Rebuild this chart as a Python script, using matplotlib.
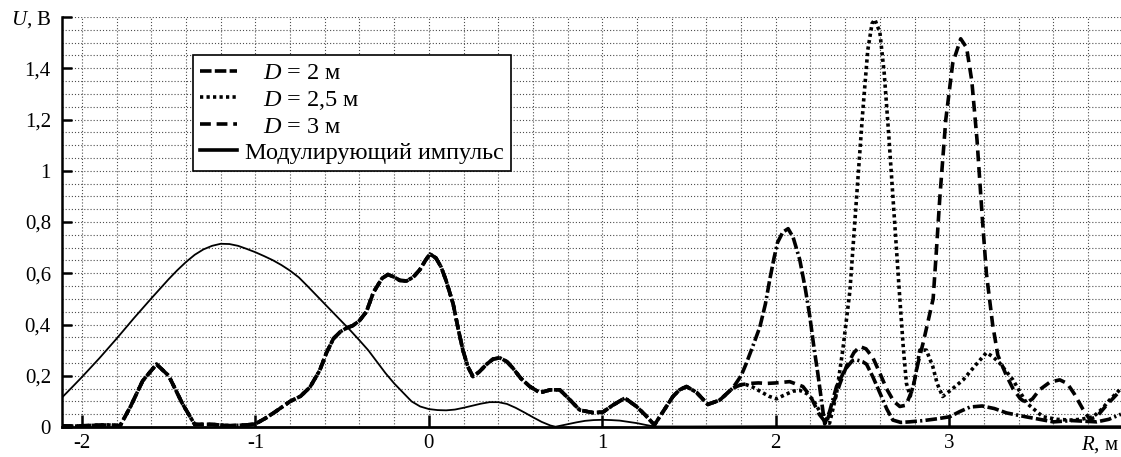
import matplotlib
matplotlib.use("Agg")
import matplotlib.pyplot as plt
from matplotlib.ticker import MultipleLocator

plt.rcParams['font.family'] = ['Liberation Serif', 'DejaVu Serif']
plt.rcParams['mathtext.fontset'] = 'custom'
plt.rcParams['mathtext.rm'] = 'Liberation Serif'
plt.rcParams['mathtext.it'] = 'Liberation Serif:italic'

# common part of the three D curves (they coincide up to R ~ 1.75)
common_r = [-2.115, -2.05, -1.95, -1.85, -1.78, -1.72, -1.65, -1.57, -1.50, -1.42,
            -1.35, -1.25, -1.15, -1.05, -1.0, -0.94, -0.88, -0.80, -0.74, -0.686,
            -0.63, -0.59, -0.55, -0.51, -0.47, -0.44, -0.40, -0.36, -0.32, -0.27,
            -0.236, -0.20, -0.167, -0.128, -0.09, -0.052, -0.02, 0.006, 0.04, 0.07,
            0.10, 0.14, 0.17, 0.196, 0.225, 0.254, 0.29, 0.333, 0.37, 0.409,
            0.45, 0.484, 0.53, 0.582, 0.64, 0.70, 0.755, 0.80, 0.87, 0.946,
            1.003, 1.06, 1.13, 1.197, 1.25, 1.30, 1.35, 1.407, 1.445, 1.485,
            1.543, 1.608, 1.677, 1.752]
common_u = [0.005, 0.003, 0.006, 0.008, 0.005, 0.08, 0.18, 0.245, 0.2, 0.09,
            0.01, 0.01, 0.005, 0.008, 0.012, 0.035, 0.062, 0.1, 0.12, 0.155,
            0.22, 0.29, 0.345, 0.372, 0.388, 0.395, 0.415, 0.45, 0.525, 0.58,
            0.595, 0.585, 0.572, 0.57, 0.585, 0.614, 0.65, 0.675, 0.66, 0.625,
            0.57, 0.48, 0.38, 0.30, 0.235, 0.197, 0.215, 0.245, 0.265, 0.27,
            0.255, 0.23, 0.19, 0.158, 0.134, 0.145, 0.145, 0.115, 0.066, 0.056,
            0.058, 0.085, 0.113, 0.08, 0.045, 0.008, 0.06, 0.119, 0.145, 0.158,
            0.135, 0.088, 0.105, 0.152]

# D = 2 м, after the split
d2_r = [1.80, 1.831, 1.87, 1.908, 1.94, 1.965, 1.99, 2.01, 2.04, 2.071,
        2.10, 2.138, 2.17, 2.196, 2.22, 2.242, 2.262, 2.282, 2.31, 2.35,
        2.40, 2.44, 2.465, 2.50, 2.523, 2.56, 2.60, 2.64, 2.675, 2.72,
        2.77, 2.85, 2.93, 3.003, 3.06, 3.12, 3.19, 3.26, 3.33, 3.44,
        3.52, 3.60, 3.71, 3.85, 3.92, 3.99]
d2_u = [0.2, 0.25, 0.32, 0.39, 0.48, 0.575, 0.66, 0.72, 0.76, 0.774,
        0.74, 0.653, 0.54, 0.432, 0.31, 0.21, 0.11, 0.012, 0.06, 0.158,
        0.225, 0.258, 0.262, 0.255, 0.245, 0.195, 0.133, 0.07, 0.027, 0.018,
        0.02, 0.025, 0.032, 0.04, 0.06, 0.078, 0.082, 0.072, 0.055, 0.04,
        0.03, 0.02, 0.025, 0.02, 0.03, 0.05]

# D = 2,5 м
d25_r = [1.80, 1.831, 1.87, 1.908, 1.96, 2.004, 2.05, 2.10, 2.138, 2.18,
         2.215, 2.25, 2.29, 2.31, 2.35, 2.386, 2.427, 2.465, 2.50, 2.53,
         2.555, 2.571, 2.60, 2.625, 2.65, 2.676, 2.695, 2.715, 2.735, 2.753,
         2.775, 2.80, 2.83, 2.868, 2.905, 2.93, 2.962, 3.02, 3.08, 3.15,
         3.214, 3.25, 3.29, 3.367, 3.445, 3.54, 3.62, 3.695, 3.76, 3.83,
         3.88, 3.925, 3.99]
d25_u = [0.165, 0.165, 0.155, 0.14, 0.12, 0.11, 0.125, 0.14, 0.143, 0.13,
         0.106, 0.065, 0.02, 0.015, 0.13, 0.30, 0.53, 0.89, 1.22, 1.47,
         1.575, 1.59, 1.54, 1.38, 1.15, 0.89, 0.70, 0.50, 0.31, 0.17,
         0.12, 0.18, 0.30, 0.30, 0.236, 0.17, 0.119, 0.15, 0.184, 0.24,
         0.29, 0.275, 0.25, 0.184, 0.094, 0.04, 0.03, 0.027, 0.03, 0.04,
         0.07, 0.106, 0.15]

# D = 3 м
d3_r = [1.80, 1.85, 1.90, 1.946, 2.0, 2.08, 2.156, 2.20, 2.25, 2.29,
        2.33, 2.37, 2.407, 2.45, 2.484, 2.52, 2.56, 2.60, 2.638, 2.68,
        2.715, 2.75, 2.79, 2.82, 2.85, 2.88, 2.907, 2.925, 2.945, 2.98,
        3.02, 3.066, 3.10, 3.13, 3.16, 3.19, 3.214, 3.25, 3.28, 3.33,
        3.367, 3.41, 3.445, 3.48, 3.52, 3.58, 3.637, 3.68, 3.72, 3.77,
        3.81, 3.85, 3.90, 3.99]
d3_u = [0.165, 0.17, 0.172, 0.17, 0.172, 0.177, 0.158, 0.12, 0.05, 0.015,
        0.09, 0.17, 0.236, 0.29, 0.314, 0.305, 0.27, 0.21, 0.15, 0.10,
        0.08, 0.085, 0.15, 0.25, 0.33, 0.42, 0.50, 0.68, 0.89, 1.2,
        1.42, 1.515, 1.48, 1.35, 1.12, 0.82, 0.60, 0.40, 0.28, 0.2,
        0.15, 0.11, 0.094, 0.11, 0.145, 0.175, 0.184, 0.17, 0.13, 0.07,
        0.03, 0.04, 0.08, 0.145]

# modulating pulse
mod_r = [-2.115, -2.05, -2.0, -1.9, -1.8, -1.7, -1.6, -1.5, -1.45, -1.4,
         -1.35, -1.3, -1.25, -1.2, -1.15, -1.1, -1.05, -1.0, -0.95, -0.9,
         -0.85, -0.8, -0.75, -0.7, -0.65, -0.6, -0.55, -0.5, -0.45, -0.4,
         -0.35, -0.3, -0.25, -0.2, -0.15, -0.1, -0.05, 0.0, 0.05, 0.1,
         0.15, 0.2, 0.25, 0.3, 0.35, 0.4, 0.45, 0.5, 0.55, 0.6,
         0.65, 0.7, 0.73, 0.78, 0.85, 0.9, 0.95, 1.0, 1.05, 1.1,
         1.15, 1.2, 1.25, 1.3, 1.5, 2.0, 2.5, 3.0, 3.5, 3.99]
mod_u = [0.115, 0.16, 0.195, 0.268, 0.345, 0.425, 0.502, 0.577, 0.612, 0.644,
         0.672, 0.693, 0.707, 0.715, 0.714, 0.707, 0.695, 0.682, 0.667, 0.651,
         0.632, 0.61, 0.584, 0.55, 0.515, 0.48, 0.445, 0.41, 0.375, 0.338,
         0.30, 0.255, 0.21, 0.17, 0.135, 0.1, 0.08, 0.07, 0.066, 0.065,
         0.068, 0.075, 0.083, 0.091, 0.097, 0.097, 0.09, 0.075, 0.057, 0.038,
         0.02, 0.006, 0.001, 0.008, 0.018, 0.024, 0.027, 0.028, 0.027, 0.025,
         0.02, 0.015, 0.008, 0.002, 0.002, 0.003, 0.003, 0.003, 0.003, 0.003]

x_ticks = [-2, -1, 0, 1, 2, 3]
x_labels = ['-2', '-1', '0', '1', '2', '3']
y_ticks = [0, 0.2, 0.4, 0.6, 0.8, 1.0, 1.2, 1.4, 1.6]
y_labels = ['0', '0,2', '0,4', '0,6', '0,8', '1', '1,2', '1,4', '$U$, В']

fig = plt.figure(figsize=(11.21, 4.57), dpi=100)
ax = fig.add_axes([62 / 1121, 1 - 427 / 457, 1 - 62 / 1121, 410 / 457])

lw = 2.6
ax.plot(common_r + d2_r, common_u + d2_u, color='k', lw=lw,
        linestyle=(0, (3.2, 0.9, 3.2, 0.9, 3.2, 0.9, 0.6, 0.9)), label='   $D$ = 2 м')
ax.plot(common_r + d25_r, common_u + d25_u, color='k', lw=lw,
        linestyle=(0, (0.9, 0.9)), label='   $D$ = 2,5 м')
ax.plot(common_r + d3_r, common_u + d3_u, color='k', lw=lw,
        linestyle=(0, (3.0, 1.6)), label='   $D$ = 3 м')
ax.plot(mod_r, mod_u, color='k', lw=1.3, label='Модулирующий импульс')

ax.set_xlim(-2.115, 3.99)
ax.set_ylim(0, 1.6)

ax.set_xticks(x_ticks)
ax.set_xticklabels(x_labels)
ax.set_yticks(y_ticks)
ax.set_yticklabels(y_labels)
ax.xaxis.set_minor_locator(MultipleLocator(0.2))
ax.yaxis.set_minor_locator(MultipleLocator(0.05))
ax.tick_params(which='major', direction='in', labelsize=15, width=1.8, color='k')
ax.tick_params(axis='x', which='major', length=9, pad=5)
ax.tick_params(axis='y', which='major', length=7, pad=8)
ax.tick_params(which='minor', length=0)

ax.grid(True, which='both', color='0.3', lw=0.8, linestyle=(0, (1, 1.8)))
ax.set_axisbelow(True)

for s in ['top', 'right']:
    ax.spines[s].set_visible(False)
ax.spines['left'].set_linewidth(1.8)
ax.spines['bottom'].set_linewidth(2.0)

# axis name under the right end of the R axis
ax.text(3.76, -0.088, '$R$, м', transform=ax.transData, fontsize=15,
        ha='left', va='baseline', clip_on=False)

leg = ax.legend(loc='upper left', bbox_to_anchor=(0.1237, 0.907), borderaxespad=0,
                fontsize=17.5, handlelength=1.5, handletextpad=0.35, labelspacing=0.17,
                fancybox=False, framealpha=1, edgecolor='k', borderpad=0.3)
leg.get_frame().set_linewidth(1.2)
for h in leg.get_lines():
    h.set_linewidth(2.6)

fig.savefig('out.png', dpi=100)
